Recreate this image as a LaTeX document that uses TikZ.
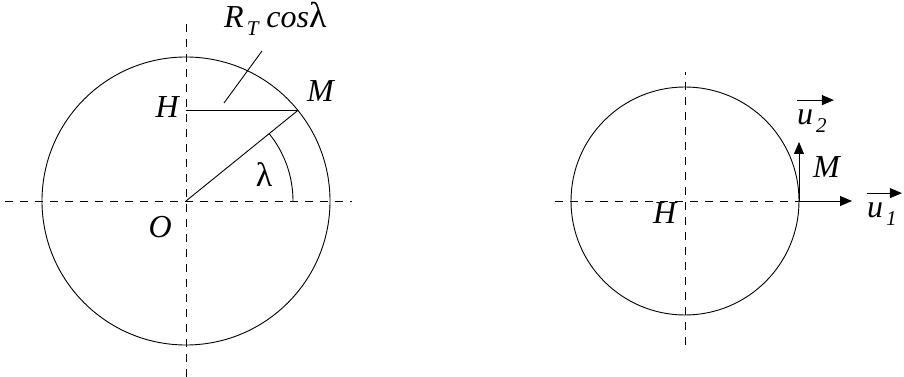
\documentclass[tikz,border=0pt]{standalone}
\usepackage{fontspec}
\setmainfont{Liberation Serif}
\usetikzlibrary{arrows.meta,calc}

\newcommand{\lowsub}[1]{\hspace{3pt}\raisebox{-8pt}{\fontsize{21}{21}\selectfont\itshape #1}}

\begin{document}
\begin{tikzpicture}[
  x=1pt, y=1pt,
  axis/.style={dash pattern=on 8pt off 7pt, line width=0.9pt},
  line/.style={line width=0.9pt},
  lbl/.style={inner sep=0pt, font=\fontsize{32}{34}\selectfont\itshape},
  vec/.style={-{Triangle[length=12pt,width=10pt]}, line width=0.9pt},
]
\useasboundingbox (0,0) rectangle (904,377);
% --- left panel: meridian section ---
\coordinate (O) at (186,176);
\coordinate (M) at ($(O)+(39:144)$);
\coordinate (H) at (O |- M);
\draw[line] (O) circle[radius=144];
\draw[axis] (5,176) -- (352,176);
\draw[axis] (186,0) -- (186,357);
\draw[line] (O) -- (M);
\draw[line] (H) -- (M);
\draw[line] ($(O)+(107,0)$) arc[start angle=0, end angle=39, radius=107];
\node[lbl, font=\fontsize{34}{36}\selectfont, anchor=center] (lam) at (264,202) {λ};
\node[lbl, anchor=base east] (Hl) at (179,259) {H};
\node[lbl, anchor=base west] (Ml) at (307,275) {M};
\node[lbl, anchor=base east] (Ol) at (172,139) {O};
\node[lbl, anchor=base west] (rc) at (224,349) {R\lowsub{T} cos{\upshape\fontsize{36}{36}\selectfont λ}};
\coordinate (lead1) at (224,274);
\coordinate (lead2) at (262,326);
\draw[line] (lead1) -- (lead2);
% --- right panel: parallel section ---
\coordinate (C) at (685,176);
\coordinate (P) at ($(C)+(114,0)$);
\draw[line] (C) circle[radius=114];
\draw[axis] (555,176) -- (P);
\draw[axis] (685,32) -- (685,305);
\coordinate (e1) at ($(P)+(53,0)$);
\coordinate (e2) at ($(P)+(0,59)$);
\draw[vec] (P) -- (e1);
\draw[vec] (P) -- (e2);
\node[lbl, anchor=base west] (Hr) at (653,153) {H};
\node[lbl, anchor=base west] (Mr) at (813,199) {M};
\node[lbl, anchor=base west] (u2) at (797,252) {u\lowsub{2}};
\node[lbl, anchor=base west] (u1) at (867,159) {u\lowsub{1}};
\draw[vec] ([yshift=10pt]u2.north west) -- ([yshift=10pt,xshift=7pt]u2.north east);
\draw[vec] ([yshift=10pt]u1.north west) -- ([yshift=10pt,xshift=5pt]u1.north east);
\end{tikzpicture}
\end{document}
